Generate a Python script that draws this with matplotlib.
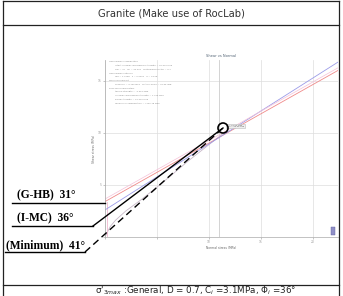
import matplotlib.pyplot as plt
from matplotlib.patches import Circle, Rectangle

# ---- data ----
title = 'Granite (Make use of RocLab)'
footer = "σ'$_{3max}$ :General, D = 0.7, C$_i$ =3.1MPa, Φ$_i$ =36°"

x_ticks = [0, 5, 10, 15, 20]
y_ticks = [0, 5, 10, 15]

# Mohr-Coulomb fits and Hoek-Brown envelope (normal stress, shear stress)
mc_red_x = [0, 22.4]
mc_red_y = [3.4, 16.0]
mc_blue_x = [0, 22.4]
mc_blue_y = [2.6, 16.8]
hb_x = [0.05, 0.5, 1.0, 2.0, 3.5, 5.5, 8.0, 11.3]
hb_y = [0.1, 1.0, 1.6, 2.5, 3.6, 5.2, 7.3, 9.9]
sig3max_x = 11.0
point_x, point_y = 11.3, 10.5

text_block = [
    ('Hoek Brown Classification', 0),
    ('intact uniaxial compressive strength = 97.500 MPa', 1),
    ('GSI = 47   mi = 32.000   Disturbance factor = 0.7', 1),
    ('Hoek Brown Criterion', 0),
    ('mb = 1.2098   s = 0.0002   a = 0.508', 1),
    ('Mohr-Coulomb Fit', 0),
    ('cohesion = 3.100 MPa   friction angle = 35.95 deg', 1),
    ('Rock Mass Parameters', 0),
    ('tensile strength = -0.016 MPa', 1),
    ('uniaxial compressive strength = 1.059 MPa', 1),
    ('global strength = 10.237 MPa', 1),
    ('modulus of deformation = 7742.18 MPa', 1),
]

# annotation labels (text, underline start, underline end, leader end, style)
labels = ['(G-HB)  31°', '(I-MC)  36°', '(Minimum)  41°']
label_x = [17, 17, 6]
label_y = [198, 221, 248]
under_x0 = [12, 12, 5]
under_x1 = [105, 93, 85]
under_y = [203, 226, 252]
leader_end_x = [105, 223, 223]
leader_end_y = [203, 128, 128]
leader_style = ['-', '-', (0, (5, 3))]

fig = plt.figure(figsize=(3.43, 2.96), dpi=100)

# ---- embedded RocLab chart ----
W, H = 343.0, 296.0
ax = fig.add_axes([105 / W, (H - 237) / H, (338 - 105) / W, (237 - 60) / H])
ax.set_xlim(0, 22.4)
ax.set_ylim(0, 17.0)
ax.set_xticks(x_ticks)
ax.set_yticks(y_ticks)
ax.set_xticklabels(['', '', '10', '15', '20'], fontsize=2.2, color='#777777')
ax.set_yticklabels(['', '5', '10', '15'], fontsize=2.2, color='#777777')
ax.tick_params(length=1.5, width=0.4, colors='#999999', pad=1)
ax.grid(True, color='#dddddd', lw=0.5)
for s in ['top', 'right']:
    ax.spines[s].set_visible(False)
for s in ['left', 'bottom']:
    ax.spines[s].set_color('#aaaaaa')
    ax.spines[s].set_linewidth(0.5)
ax.set_xlabel('Normal stress (MPa)', fontsize=2.2, color='#666666', labelpad=1)
ax.set_ylabel('Shear stress (MPa)', fontsize=2.2, color='#666666', labelpad=1)
ax.set_title('Shear vs Normal', fontsize=2.6, color='#556677', pad=2)

ax.axvline(sig3max_x, color='#cccccc', lw=0.6)
ax.plot(hb_x, hb_y, color='#c8b8c8', lw=0.6)
ax.plot([0.15, 0.15], [0, 3.4], color='#f0b8d0', lw=0.6)
ax.plot(mc_red_x, mc_red_y, color='#f08a8a', lw=0.6)
ax.plot(mc_blue_x, mc_blue_y, color='#9b9be8', lw=0.6)
ax.plot(mc_red_x, [v + 0.25 for v in mc_red_y], color='#f5c0d8', lw=0.5)

for i, (txt, ind) in enumerate(text_block):
    ax.text(0.4 + 0.6 * ind, 16.9 - i * 0.36, txt, fontsize=1.6,
            color='#888888', va='top', ha='left')

ax.text(point_x + 0.45, point_y + 0.15, 'c = 3.100 MPa\nphi = 35.95 deg', fontsize=1.5,
        color='#666666', va='center', ha='left',
        bbox=dict(boxstyle='square,pad=0.4', fc='#eeeeee', ec='#bbbbbb', lw=0.4))
ax.add_patch(Rectangle((21.7, 0.15), 0.45, 0.8, fc='#9090c8', ec='#6060a0', lw=0.3))

# ---- table frame and overlay annotations (pixel coordinates) ----
ov = fig.add_axes([0, 0, 1, 1], facecolor='none')
ov.set_xlim(0, W)
ov.set_ylim(H, 0)
ov.axis('off')

frame = dict(color='#222222', lw=0.9)
ov.plot([3, 3], [1, 296], **frame)
ov.plot([339, 339], [1, 296], **frame)
ov.plot([3, 339], [1, 1], **frame)
ov.plot([3, 339], [24.5, 24.5], **frame)
ov.plot([3, 339], [284.5, 284.5], **frame)

ov.text(171, 13, title, ha='center', va='center', fontsize=7.2,
        family='DejaVu Sans', color='#333333')
ov.text(196, 290.5, footer, ha='center', va='center', fontsize=6.3,
        family='DejaVu Sans', color='#222222')

ov.add_patch(Circle((223, 128), 5.0, fill=False, ec='black', lw=1.2))

for i in range(len(labels)):
    ov.text(label_x[i], label_y[i], labels[i], fontsize=8.3, fontweight='bold',
            family='Liberation Serif', ha='left', va='baseline', color='black')
    ov.plot([under_x0[i], under_x1[i]], [under_y[i], under_y[i]], color='black', lw=1.0)
    if i > 0:
        ov.plot([under_x1[i], leader_end_x[i]], [under_y[i], leader_end_y[i]],
                color='black', lw=1.0, linestyle=leader_style[i])

fig.savefig('out.png', dpi=100)
